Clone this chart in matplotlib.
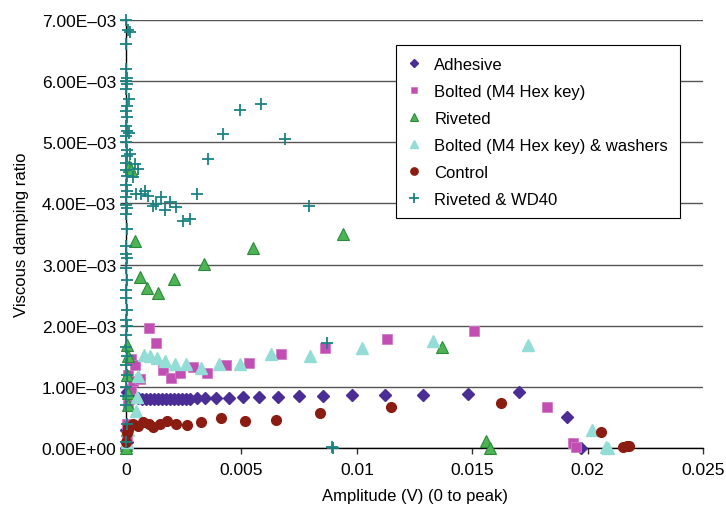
import numpy as np
import matplotlib.pyplot as plt
from matplotlib.ticker import FuncFormatter

plt.rcParams['font.family'] = ['Liberation Sans', 'DejaVu Sans']

# Adhesive
adh_x = [0.00001, 0.00002, 0.00003, 0.00005, 0.0001, 0.0003, 0.0005, 0.00069, 0.00087, 0.00104,
         0.00121, 0.00139, 0.00156, 0.00173, 0.00191, 0.00208, 0.00225, 0.00243, 0.0026, 0.00277,
         0.00308, 0.0034, 0.00388, 0.00445, 0.00505, 0.00575, 0.00657, 0.00748, 0.00852, 0.00978,
         0.01121, 0.01286, 0.01481, 0.01704, 0.0191, 0.0197]
adh_y = [0.0, 0.0003, 0.00092, 0.0001, 0.00085, 0.00082, 0.00082, 0.00081, 0.00081, 0.00081,
         0.00081, 0.00081, 0.00081, 0.00081, 0.00081, 0.00081, 0.00081, 0.00081, 0.00081, 0.00081,
         0.00082, 0.00082, 0.00082, 0.00082, 0.00083, 0.00083, 0.00083, 0.00085, 0.00085, 0.00087,
         0.00087, 0.00087, 0.00089, 0.00092, 0.00051, 0.0]

# Bolted (M4 Hex key)
bolt_x = [0.00003, 0.00005, 0.0001, 0.0001, 0.0002, 0.0002, 0.0003, 0.0004, 0.0006, 0.00098,
          0.00131, 0.0016, 0.00196, 0.00235, 0.0029, 0.00352, 0.00432, 0.00531, 0.0067, 0.00862,
          0.0113, 0.01506, 0.01825, 0.01935, 0.01948]
bolt_y = [0.0002, 0.0004, 0.0007, 0.0012, 0.00145, 0.00097, 0.0011, 0.00135, 0.00113, 0.00196,
          0.00171, 0.00128, 0.00115, 0.00122, 0.00132, 0.00122, 0.00135, 0.00139, 0.00154, 0.00163,
          0.00178, 0.00191, 0.00067, 0.00009, 0.00001]

# Riveted
riv_x = [0.0, 0.00002, 0.00005, 0.00005, 0.00008, 0.0001, 0.0001, 0.00003, 0.00015, 0.0002,
         0.00041, 0.00059, 0.00093, 0.0014, 0.00209, 0.00337, 0.00552, 0.00939, 0.0137, 0.01559,
         0.01576]
riv_y = [0.00005, 0.0, 0.0003, 0.00168, 0.0009, 0.0015, 0.0007, 0.0012, 0.00461, 0.00455,
         0.00338, 0.00279, 0.00261, 0.00253, 0.00277, 0.00301, 0.00327, 0.0035, 0.00166, 0.00011,
         0.0]

# Bolted (M4 Hex key) & washers
wash_x = [0.00005, 0.0001, 0.00044, 0.00047, 0.00053, 0.00077, 0.00106, 0.00132, 0.00169, 0.0021,
          0.00259, 0.00324, 0.00401, 0.00494, 0.00627, 0.00796, 0.01021, 0.01329, 0.01741, 0.0202,
          0.0208, 0.0209]
wash_y = [0.0001, 0.0003, 0.00061, 0.00084, 0.00117, 0.00152, 0.0015, 0.00148, 0.00143, 0.00137,
          0.00137, 0.00131, 0.00137, 0.00137, 0.00154, 0.0015, 0.00163, 0.00175, 0.00168, 0.00029,
          0.00002, 0.0]

# Control
ctrl_x = [0.00002, 0.00005, 0.00008, 0.0001, 0.00029, 0.00051, 0.00073, 0.00099, 0.00119, 0.00145,
          0.00176, 0.00218, 0.00262, 0.00323, 0.0041, 0.00514, 0.00648, 0.00839, 0.01146, 0.01626,
          0.02058, 0.02155, 0.02169, 0.02181]
ctrl_y = [0.0001, 0.00025, 0.00034, 0.0003, 0.00039, 0.00036, 0.00042, 0.00039, 0.00034, 0.0004,
          0.00045, 0.0004, 0.00038, 0.00042, 0.00049, 0.00044, 0.00046, 0.00058, 0.00067, 0.00073,
          0.00027, 0.00001, 0.00003, 0.00004]

# Riveted & WD40
wd_x = [0.00001, 0.00008, 0.00018, 0.00001, 0.00012, 0.00015, 0.00018, 0.00037, 0.00051, 0.00029,
        0.00044, 0.00066, 0.00082, 0.00095, 0.00116, 0.00131, 0.00151, 0.00167, 0.00191, 0.00218,
        0.00245, 0.00275, 0.00308, 0.00353, 0.00419, 0.00492, 0.00586, 0.0069, 0.00794, 0.0087,
        0.00893, 0.00895,
        0.00002, 0.00003, 0.00001, 0.00004, 0.00002, 0.00005, 0.00001, 0.00003, 0.00002, 0.00004,
        0.00001, 0.00002, 0.00005, 0.00003, 0.00001, 0.00002, 0.00004, 0.00001, 0.00003, 0.00002,
        0.00001, 0.00004, 0.00002, 0.00003, 0.00001, 0.00002, 0.00005, 0.00001, 0.00003, 0.00002,
        0.00001, 0.00004, 0.00002, 0.00003, 0.00001, 0.00002, 0.00004, 0.00001, 0.00003, 0.00002,
        0.00001, 0.00002, 0.00003, 0.00001]
wd_y = [0.007, 0.00684, 0.0068, 0.00661, 0.00571, 0.00516, 0.00481, 0.00464, 0.00456, 0.00443,
        0.00415, 0.00415, 0.00421, 0.00413, 0.00396, 0.00399, 0.00411, 0.00389, 0.00402, 0.00394,
        0.00372, 0.00375, 0.00415, 0.00472, 0.00514, 0.00553, 0.00562, 0.00505, 0.00396, 0.00171,
        0.00001, 0.0,
        0.0062, 0.00605, 0.006, 0.00595, 0.00587, 0.0056, 0.00552, 0.00542, 0.00527, 0.00519,
        0.00511, 0.005, 0.00488, 0.00477, 0.00466, 0.00455, 0.00445, 0.0043, 0.0042, 0.0041,
        0.00398, 0.00392, 0.00383, 0.00358, 0.0033, 0.00318, 0.0031, 0.00295, 0.00275, 0.00258,
        0.00245, 0.00225, 0.0021, 0.002, 0.00185, 0.00165, 0.0015, 0.00135, 0.0012, 0.001,
        0.00085, 0.0007, 0.0004, 0.0001]

fig = plt.figure(figsize=(7.26, 5.06), dpi=100)
ax = fig.add_axes([0.1736, 0.1126, 0.7948, 0.8458])

ax.grid(True, axis='y', color='#555555', lw=1.0)
ax.set_axisbelow(True)

kw = dict(ls='none', clip_on=False, zorder=3)
ax.plot(adh_x, adh_y, 'D', ms=6, color='#4B2D96', mec='#4B2D96', label='Adhesive', **kw)
ax.plot(bolt_x, bolt_y, 's', ms=6.5, color='#C24DB3', mec='#D07CC4', mew=0.6,
        label='Bolted (M4 Hex key)', **kw)
ax.plot(riv_x, riv_y, '^', ms=8, color='#4DB354', mec='#2A8A3A', mew=0.8, label='Riveted', **kw)
ax.plot(wash_x, wash_y, '^', ms=8.5, color='#93DDD6', mec='#93DDD6',
        label='Bolted (M4 Hex key) & washers', **kw)
ax.plot(ctrl_x, ctrl_y, 'o', ms=7, color='#8B1C12', mec='#8B1C12', label='Control', **kw)
ax.plot(wd_x, wd_y, '+', ms=9, mew=1.3, color='#1A8282', label='Riveted & WD40', **kw)

ax.set_xlim(0, 0.025)
ax.set_ylim(0, 0.007)
ax.set_xticks(np.arange(0, 0.0251, 0.005))
ax.set_yticks(np.arange(0, 0.00701, 0.001))
ax.xaxis.set_major_formatter(FuncFormatter(lambda v, p: '0' if v == 0 else f'{v:g}'))


def sci(v, p):
    s = f'{v:.2E}'
    return s.replace('-', '\u2013')


ax.yaxis.set_major_formatter(FuncFormatter(sci))

for s in ['top', 'right']:
    ax.spines[s].set_visible(False)
ax.spines['left'].set_linewidth(1.0)
ax.spines['bottom'].set_linewidth(1.0)
ax.tick_params(direction='out', length=4, width=1, labelsize=12.5, color='#333333', pad=3)
ax.tick_params(axis='x', pad=6)

ax.set_xlabel('Amplitude (V) (0 to peak)', fontsize=12, labelpad=8)
ax.set_ylabel('Viscous damping ratio', fontsize=12, labelpad=9)

leg = ax.legend(loc='upper left', bbox_to_anchor=(0.468, 0.942), fontsize=12, frameon=True,
                fancybox=False, edgecolor='black', framealpha=1, markerscale=0.75,
                handlelength=0.8, handletextpad=0.8, labelspacing=0.72, borderpad=0.7,
                borderaxespad=0)
leg.get_frame().set_linewidth(0.8)

fig.savefig('out.png', dpi=100)
